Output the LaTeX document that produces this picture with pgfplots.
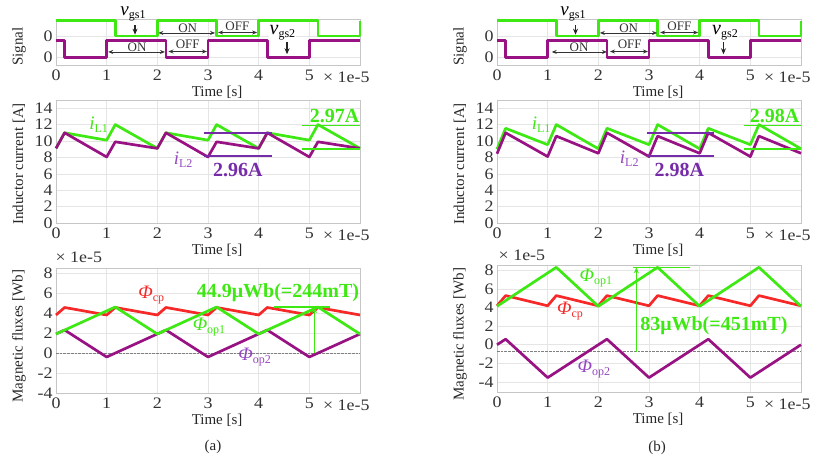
\documentclass[border=0pt]{standalone}
\usepackage{fontspec}
\setmainfont{Liberation Serif}
\newfontfamily\tickfont{Liberation Serif}[FakeStretch=1.12]
\usepackage{pgfplots}
\pgfplotsset{compat=1.18}
\usetikzlibrary{arrows.meta}

\definecolor{sgreen}{RGB}{62,232,18}
\definecolor{spurple}{RGB}{152,18,132}
\definecolor{lpurple}{RGB}{150,72,192}
\definecolor{bpurple}{RGB}{118,44,168}
\definecolor{sred}{RGB}{246,40,40}

\newcommand\fs[1]{\fontsize{#1}{#1}\selectfont}
\newcommand\sub[1]{\raisebox{-0.32em}{\fs{12}\upshape #1}}

\tikzset{
  arr/.style={black!80, line width=0.8pt, {Stealth[length=5pt,width=4pt]}-{Stealth[length=5pt,width=4pt]}},
  darr/.style={black!85, line width=1.2pt, -{Stealth[length=6pt,width=5pt]}},
  vlab/.style={anchor=base, inner sep=0pt, text height=8pt, text depth=4pt},
}

\pgfplotsset{
  common/.style={
    scale only axis, width=304pt, xmin=0, xmax=6, xtick={0,1,2,3,4,5},
    grid=major, major grid style={draw=gray!20, line width=0.5pt},
    axis line style={draw=gray!45, line width=0.6pt},
    major tick length=0pt,
    tick label style={font=\tickfont\fs{16}, text=black!80},
    xticklabel style={yshift=-1.5pt},
    /pgf/number format/assume math mode=true,
    xlabel={Time [s]},
    xlabel style={font=\fs{15}, text=black!85, at={(axis description cs:0.53,0)}, anchor=center, yshift=-27pt},
    ylabel style={font=\fs{15}, text=black!85, anchor=center},
    clip=false, anchor=south west,
    every axis plot/.append style={line width=2.7pt, line join=round, mark=none},
  },
  sig/.style={common, height=46pt, ymin=-0.5, ymax=2.5, ytick={0,1.4}, yticklabels={0,0},
    ylabel={Signal}, ylabel style={at={(axis description cs:-0.122,0.4)}}},
  cur/.style={common, height=123pt, ymin=0, ymax=15, ytick={0,2,...,14},
    ylabel={Inductor current [A]}, ylabel style={at={(axis description cs:-0.122,0.48)}}},
  flx/.style={common, height=125pt, ytick={-4,-2,...,8},
    ylabel={Magnetic fluxes [Wb]}, ylabel style={at={(axis description cs:-0.122,0.455)}}},
}

\newcommand\xscl{\node[font=\tickfont\fs{16}, text=black!80] at (axis description cs:0.955,0) [yshift=-12pt] {× 1e-5};}

\begin{document}
\begin{tikzpicture}
\useasboundingbox (0,0) rectangle (816pt,-462pt);

% ================= (a) signal =================
\begin{axis}[sig, at={(56pt,-65pt)}]
\addplot[sgreen] coordinates {(0,2.4)(1.17,2.4)(1.17,1.4)(2,1.4)(2,2.4)(3.17,2.4)(3.17,1.4)(4,1.4)(4,2.4)(5.17,2.4)(5.17,1.4)(6,1.4)(6,2.4)};
\addplot[spurple] coordinates {(0,1.1)(0.17,1.1)(0.17,0)(1,0)(1,1.1)(2.17,1.1)(2.17,0)(3,0)(3,1.1)(4.17,1.1)(4.17,0)(5,0)(5,1.1)(6,1.1)};
\draw[arr] (axis cs:2.02,1.59) -- (axis cs:3.14,1.59);
\draw[arr] (axis cs:3.2,1.62) -- (axis cs:3.97,1.62);
\draw[arr] (axis cs:1.03,0.35) -- (axis cs:2.15,0.35);
\draw[arr] (axis cs:2.22,0.38) -- (axis cs:2.98,0.38);
\node[font=\fs{13}, text=black!80] at (axis cs:2.6,1.92) {ON};
\node[font=\fs{13}, text=black!80] at (axis cs:3.58,2.05) {OFF};
\node[font=\fs{13}, text=black!80] at (axis cs:1.6,0.68) {ON};
\node[font=\fs{13}, text=black!80] at (axis cs:2.6,0.85) {OFF};
\draw[darr] (axis cs:1.56,2.1) -- (axis cs:1.56,1.48);
\node[vlab] at (axis cs:1.52,2.74) {{\fs{19}\itshape v}\sub{gs1}};
\draw[darr] (axis cs:4.56,1.0) -- (axis cs:4.56,0.2);
\node[vlab, fill=white, inner sep=1pt] at (axis cs:4.47,1.5) {{\fs{20}\itshape v}\sub{gs2}};
\xscl
\end{axis}

% ================= (a) current =================
\begin{axis}[cur, at={(56pt,-223pt)}]
\addplot[sgreen] coordinates {(0,9.1)(0.17,11)(1,10.1)(1.17,12)(2,9.1)(2.17,11)(3,10.1)(3.17,12)(4,9.1)(4.17,11)(5,10.1)(5.17,12)(6,9.1)};
\addplot[spurple] coordinates {(0,9.1)(0.17,11)(1,8.05)(1.17,9.9)(2,9.1)(2.17,11)(3,8.05)(3.17,9.9)(4,9.1)(4.17,11)(5,8.05)(5.17,9.9)(6,9.1)};
\draw[bpurple, line width=1.6pt] (axis cs:2.92,11.0) -- (axis cs:4.26,11.0);
\draw[bpurple, line width=1.6pt] (axis cs:2.92,8.2) -- (axis cs:4.26,8.2);
\draw[sgreen, line width=1.6pt] (axis cs:4.86,11.9) -- (axis cs:6,11.9);
\draw[sgreen, line width=1.6pt] (axis cs:4.86,9.0) -- (axis cs:6,9.0);
\node[bpurple, font=\bfseries\fs{20}] at (axis cs:3.59,6.45) {2.96A};
\node[sgreen, font=\bfseries\fs{20}] at (axis cs:5.5,13.0) {2.97A};
\node[sgreen] at (axis cs:0.84,12.0) {{\fs{19}\itshape i}\sub{L1}};
\node[lpurple] at (axis cs:2.51,7.7) {{\fs{19}\itshape i}\sub{L2}};
\xscl
\end{axis}

% ================= (a) flux =================
\begin{axis}[flx, height=125pt, ymin=-4, ymax=8.5, at={(56pt,-393pt)}]
\addplot[gray, densely dotted, line width=0.8pt] coordinates {(0,0)(6,0)};
\addplot[spurple] coordinates {(0,1.9)(0.17,2.3)(1,-0.4)(2.17,2.3)(3,-0.4)(4.17,2.3)(5,-0.4)(6,1.9)};
\addplot[sred] coordinates {(0,3.8)(0.17,4.55)(1,3.8)(1.17,4.55)(2,3.8)(2.17,4.55)(3,3.8)(3.17,4.55)(4,3.8)(4.17,4.55)(5,3.8)(5.17,4.55)(6,3.8)};
\addplot[sgreen] coordinates {(0,1.9)(1.17,4.6)(2,1.9)(3.17,4.6)(4,1.9)(5.17,4.6)(6,1.9)};
\draw[sgreen, line width=1.6pt] (axis cs:4.3,4.6) -- (axis cs:5.4,4.6);
\draw[sgreen, line width=1.6pt, -{Stealth[length=6pt,width=5pt]}] (axis cs:5.1,0) -- (axis cs:5.1,4.6);
\node[sgreen, font=\bfseries\fs{20}] at (axis cs:4.38,6.08) {44.9μWb(=244mT)};
\node[sred] at (axis cs:1.88,5.8) {{\fs{19}\itshape Φ}\sub{cp}};
\node[sgreen] at (axis cs:3.02,2.6) {{\fs{19}\itshape Φ}\sub{op1}};
\node[lpurple] at (axis cs:3.92,-0.4) {{\fs{19}\itshape Φ}\sub{op2}};
\node[font=\tickfont\fs{16}, text=black!80] at (axis description cs:0.075,1) [yshift=11pt] {× 1e-5};
\xscl
\end{axis}

% ================= (b) signal =================
\begin{axis}[sig, at={(497pt,-65pt)}]
\addplot[sgreen] coordinates {(0,2.4)(1.17,2.4)(1.17,1.4)(2,1.4)(2,2.4)(3.17,2.4)(3.17,1.4)(4,1.4)(4,2.4)(5.17,2.4)(5.17,1.4)(6,1.4)(6,2.4)};
\addplot[spurple] coordinates {(0,1.1)(0.17,1.1)(0.17,0)(1,0)(1,1.1)(2.17,1.1)(2.17,0)(3,0)(3,1.1)(4.17,1.1)(4.17,0)(5,0)(5,1.1)(6,1.1)};
\draw[arr] (axis cs:2.03,1.59) -- (axis cs:3.16,1.59);
\draw[arr] (axis cs:3.22,1.62) -- (axis cs:3.97,1.62);
\draw[arr] (axis cs:1.08,0.35) -- (axis cs:2.17,0.35);
\draw[arr] (axis cs:2.23,0.38) -- (axis cs:2.98,0.38);
\node[font=\fs{13}, text=black!80] at (axis cs:2.6,1.92) {ON};
\node[font=\fs{13}, text=black!80] at (axis cs:3.6,2.05) {OFF};
\node[font=\fs{13}, text=black!80] at (axis cs:1.62,0.68) {ON};
\node[font=\fs{13}, text=black!80] at (axis cs:2.62,0.85) {OFF};
\draw[darr] (axis cs:1.55,2.1) -- (axis cs:1.55,1.48);
\node[vlab] at (axis cs:1.5,2.74) {{\fs{19}\itshape v}\sub{gs1}};
\draw[darr] (axis cs:4.47,1.0) -- (axis cs:4.47,0.2);
\node[vlab, fill=white, inner sep=1pt] at (axis cs:4.5,1.5) {{\fs{20}\itshape v}\sub{gs2}};
\xscl
\end{axis}

% ================= (b) current =================
\begin{axis}[cur, at={(497pt,-223pt)}]
\addplot[sgreen] coordinates {(0,9.0)(0.17,11.55)(1,9.55)(1.17,12)(2,9.05)(2.17,11.55)(3,9.55)(3.17,12)(4,9.05)(4.17,11.55)(5,9.55)(5.17,12)(6,9.05)};
\addplot[spurple] coordinates {(0,8.45)(0.17,11)(1,8.1)(1.17,10.6)(2,8.5)(2.17,11)(3,8.1)(3.17,10.6)(4,8.5)(4.17,11)(5,8.1)(5.17,10.6)(6,8.5)};
\draw[bpurple, line width=1.6pt] (axis cs:2.96,11.0) -- (axis cs:4.29,11.0);
\draw[bpurple, line width=1.6pt] (axis cs:2.96,8.2) -- (axis cs:4.29,8.2);
\draw[sgreen, line width=1.6pt] (axis cs:4.87,11.9) -- (axis cs:6,11.9);
\draw[sgreen, line width=1.6pt] (axis cs:4.87,9.0) -- (axis cs:6,9.0);
\node[bpurple, font=\bfseries\fs{20}] at (axis cs:3.6,6.45) {2.98A};
\node[sgreen, font=\bfseries\fs{20}] at (axis cs:5.48,13.0) {2.98A};
\node[sgreen] at (axis cs:0.87,12.0) {{\fs{19}\itshape i}\sub{L1}};
\node[lpurple] at (axis cs:2.61,7.86) {{\fs{19}\itshape i}\sub{L2}};
\xscl
\end{axis}

% ================= (b) flux =================
\begin{axis}[flx, height=127pt, ymin=-5.1, ymax=8.6, at={(497pt,-392pt)}]
\addplot[gray, densely dotted, line width=0.8pt] coordinates {(0,-0.76)(6,-0.76)};
\addplot[spurple] coordinates {(0,0)(0.17,0.6)(1,-3.55)(2.17,0.6)(3,-3.55)(4.17,0.6)(5,-3.55)(6,0)};
\addplot[sred] coordinates {(0,4.2)(0.17,5.3)(1,4.2)(1.17,5.3)(2,4.2)(2.17,5.3)(3,4.2)(3.17,5.3)(4,4.2)(4.17,5.3)(5,4.2)(5.17,5.3)(6,4.2)};
\addplot[sgreen] coordinates {(0,4.15)(1.17,8.35)(2,4.15)(3.17,8.35)(4,4.15)(5.17,8.35)(6,4.15)};
\draw[sgreen, line width=1.6pt] (axis cs:2.69,8.35) -- (axis cs:3.81,8.35);
\draw[sgreen, line width=1.6pt, -{Stealth[length=6pt,width=5pt]}] (axis cs:2.75,-0.76) -- (axis cs:2.75,8.35);
\node[sgreen, font=\bfseries\fs{20}] at (axis cs:4.28,2.08) {83μWb(=451mT)};
\node[sgreen] at (axis cs:1.95,7.2) {{\fs{19}\itshape Φ}\sub{op1}};
\node[sred] at (axis cs:1.44,3.64) {{\fs{19}\itshape Φ}\sub{cp}};
\node[lpurple] at (axis cs:1.91,-2.6) {{\fs{19}\itshape Φ}\sub{op2}};
\node[font=\tickfont\fs{16}, text=black!80] at (axis description cs:0.082,1) [yshift=10pt] {× 1e-5};
\xscl
\end{axis}

\node[font=\fs{15}, text=black!85] at (213pt,-447pt) {(a)};
\node[font=\fs{15}, text=black!85] at (657pt,-448pt) {(b)};
\end{tikzpicture}
\end{document}
